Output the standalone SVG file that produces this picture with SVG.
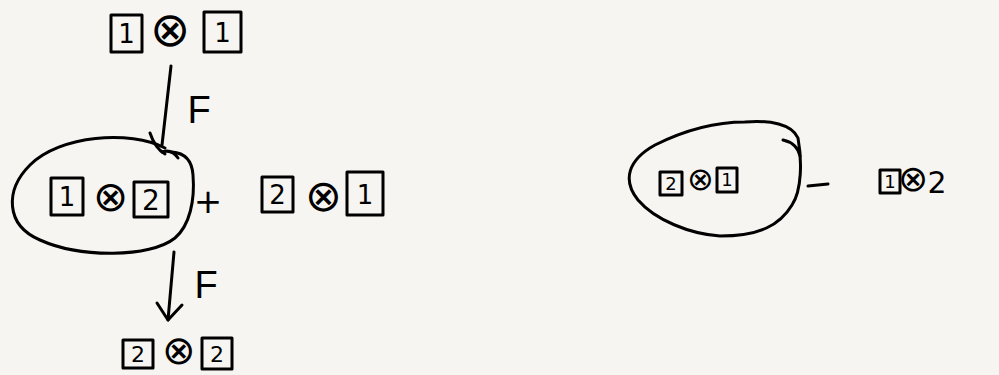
<svg xmlns="http://www.w3.org/2000/svg" width="999" height="375" viewBox="0 0 999 375">
<defs>
<style>
.bx{fill:none;stroke:#000;stroke-width:3;stroke-linejoin:round}
.ln{fill:none;stroke:#000;stroke-width:3;stroke-linecap:round;stroke-linejoin:round}
.t{font-family:"DejaVu Sans","Liberation Sans",sans-serif;fill:#000;text-anchor:middle}
.x{font-weight:200}
.d{font-size:26px}
.ds{font-size:18px}
.f{font-family:"Liberation Sans",sans-serif;font-size:38px;fill:#000;text-anchor:middle}
</style>
</defs>
<rect x="0" y="0" width="999" height="375" fill="#f7f5f1"/>

<g id="top-1x1">
<rect class="bx" x="111" y="15" width="31" height="37"/>
<text class="t d" x="126.5" y="43">1</text>
<text class="t x" style="font-size:48px" x="170" y="46">⊗</text>
<rect class="bx" x="204" y="12" width="37" height="40"/>
<text class="t d" x="222.5" y="42">1</text>
</g>

<g id="left-ellipse">
<path class="ln" d="M165,148 C130,130 60,135 30,165 C5,190 5,225 40,240 C80,258 150,258 175,238 C190,225 195,200 193,175 C192,160 185,153 172,152"/>
</g>

<g id="mid-1x2">
<rect class="bx" x="51" y="178" width="32" height="37"/>
<text class="t d" x="67" y="206">1</text>
<text class="t x" style="font-size:42px" x="110" y="211">⊗</text>
<rect class="bx" x="134" y="182" width="34" height="35"/>
<text class="t" style="font-size:28px" x="151" y="210">2</text>
</g>

<g id="plus">
<text class="t" style="font-size:34px" x="208" y="213">+</text>
</g>

<g id="mid-2x1">
<rect class="bx" x="262" y="177" width="31" height="35"/>
<text class="t d" x="277.5" y="204">2</text>
<text class="t x" style="font-size:44px" x="323" y="211">⊗</text>
<rect class="bx" x="347" y="172" width="36" height="43"/>
<text class="t d" x="365" y="204">1</text>
</g>

<g id="bottom-2x2">
<rect class="bx" x="123" y="340" width="30" height="28"/>
<text class="t" style="font-size:22px" x="138" y="362">2</text>
<text class="t x" style="font-size:40px" x="179" y="364">⊗</text>
<rect class="bx" x="202" y="338" width="30" height="31"/>
<text class="t" style="font-size:22px" x="217" y="362">2</text>
</g>

<g id="right-ellipse">
<path class="ln" d="M745,122 C770,120 792,124 798,138 C802,160 802,190 792,205 C780,225 760,236 720,236 C690,234 655,220 638,200 C622,180 628,160 655,145 C685,130 715,122 745,122"/>
<path class="ln" d="M783,140 C792,142 798,147 800,156"/>
</g>

<g id="right-2x1">
<rect class="bx" x="660" y="172" width="22" height="23"/>
<text class="t ds" x="671" y="190">2</text>
<text class="t x" style="font-size:32px" x="700" y="190">⊗</text>
<rect class="bx" x="717" y="168" width="20" height="24"/>
<text class="t ds" x="727" y="186">1</text>
</g>

<g id="minus">
<line class="ln" x1="808" y1="186" x2="828" y2="184"/>
</g>

<g id="right-1x2">
<rect class="bx" x="880" y="170" width="20" height="23"/>
<text class="t ds" x="890" y="188">1</text>
<text class="t x" style="font-size:36px" x="913" y="191">⊗</text>
<text class="t" style="font-size:30px" x="937" y="193">2</text>
</g>

<g id="connectors">
<g id="arrow-F1">
<path class="ln" d="M171,66 L162,145"/>
<path class="ln" d="M150,133 C153,142 158,150 165,154"/>
<path class="ln" d="M162,152 C168,150 174,152 178,158"/>
<text class="f" x="199" y="123">F</text>
</g>
<g id="arrow-F2">
<path class="ln" d="M174,252 L168,320"/>
<path class="ln" d="M157,303 L168,320 L182,305"/>
<text class="f" x="206" y="298">F</text>
</g>
</g>
</svg>
